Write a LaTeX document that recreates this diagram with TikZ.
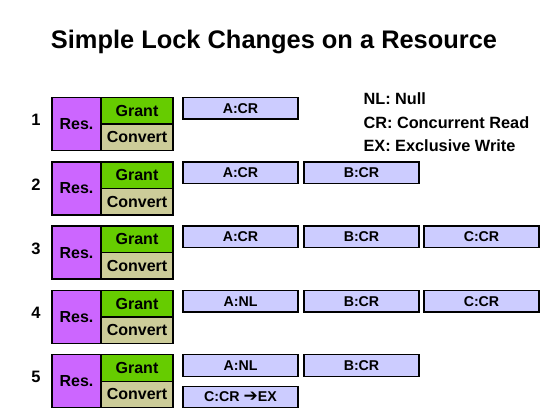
\documentclass[tikz,border=0pt]{standalone}
\usepackage{fontspec}
\setmainfont{Liberation Sans}
\newfontfamily\symfont{DejaVu Sans}
\usetikzlibrary{positioning}
\definecolor{resc}{HTML}{CC66FF}
\definecolor{grantc}{HTML}{66CC00}
\definecolor{convc}{HTML}{CCCC99}
\definecolor{lockc}{HTML}{CCCCFF}
\newcommand{\boxfont}{\fontsize{16}{18}\selectfont\bfseries}
\newcommand{\lockfont}{\fontsize{14.2}{16}\selectfont\bfseries}
\tikzset{
  cell/.style={draw=black, line width=1.4pt, inner sep=0pt, outer sep=0pt, anchor=north west},
  resbox/.style={cell, fill=resc, minimum width=49pt, minimum height=53pt, font=\boxfont},
  grantbox/.style={cell, fill=grantc, minimum width=72pt, minimum height=26.5pt, font=\boxfont},
  convbox/.style={cell, fill=convc, minimum width=72pt, minimum height=26.5pt, font=\boxfont},
  lock/.style={cell, fill=lockc, minimum width=115pt, minimum height=21.5pt, font=\lockfont},
  rownum/.style={font=\fontsize{16.5}{18}\selectfont\bfseries},
  legend/.style={anchor=west, font=\fontsize{16.3}{18}\selectfont\bfseries},
}
\begin{document}
\begin{tikzpicture}[x=1pt, y=-1pt]
  \useasboundingbox (0,0) rectangle (554,416);
  % title
  \node[anchor=base, font=\fontsize{25.4}{30}\selectfont\bfseries] (title) at (274,48.5) {Simple Lock Changes on a Resource};
  % legend
  \node[legend] (legNL) at (360,99) {NL: Null};
  \node[legend] (legCR) at (360,122.5) {CR: Concurrent Read};
  \node[legend] (legEX) at (360,146) {EX: Exclusive Write};
  % resource rows
  \foreach \r in {1,...,5} {
    \pgfmathsetmacro{\top}{97.5+64.3*(\r-1)}
    \node[resbox] (res\r) at (52,\top) {Res.};
    \node[grantbox] (grant\r) at (res\r.north east) {Grant};
    \node[convbox] (conv\r) at (grant\r.south west) {Convert};
    \node[rownum] (num\r) at (36,\top+22.5) {\r};
  }
  % granted locks
  \node[lock, right=10pt of grant1.north east, anchor=north west] (lockA1) {A:CR};
  \node[lock, right=10pt of grant2.north east, anchor=north west] (lockA2) {A:CR};
  \node[lock, right=6pt of lockA2] (lockB2) {B:CR};
  \node[lock, right=10pt of grant3.north east, anchor=north west] (lockA3) {A:CR};
  \node[lock, right=6pt of lockA3] (lockB3) {B:CR};
  \node[lock, right=5pt of lockB3] (lockC3) {C:CR};
  \node[lock, right=10pt of grant4.north east, anchor=north west] (lockA4) {A:NL};
  \node[lock, right=6pt of lockA4] (lockB4) {B:CR};
  \node[lock, right=5pt of lockB4] (lockC4) {C:CR};
  \node[lock, right=10pt of grant5.north east, anchor=north west] (lockA5) {A:NL};
  \node[lock, right=6pt of lockA5] (lockB5) {B:CR};
  % converting lock
  \node[lock, right=10pt of conv5.south east, anchor=south west] (lockC5) {C:CR {\symfont\fontsize{17}{17}\selectfont ➔}EX};
\end{tikzpicture}
\end{document}
